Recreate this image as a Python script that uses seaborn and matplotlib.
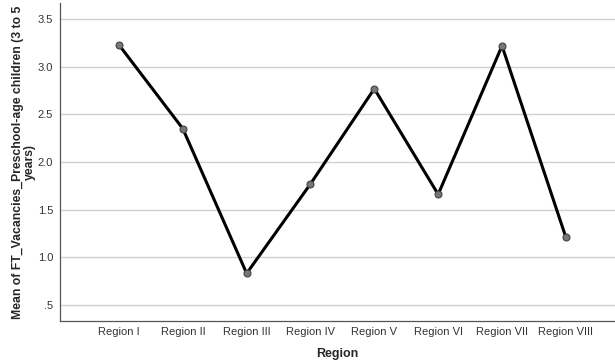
import numpy as np
import pandas as pd
import seaborn as sns
import matplotlib.pyplot as plt
from matplotlib.ticker import FixedLocator, FixedFormatter

regions = ['Region I', 'Region II', 'Region III', 'Region IV',
           'Region V', 'Region VI', 'Region VII', 'Region VIII']
mean_vacancies = [3.23, 2.35, 0.83, 1.77, 2.77, 1.66, 3.22, 1.21]
ytick_vals = [0.5, 1.0, 1.5, 2.0, 2.5, 3.0, 3.5]
ytick_labels = ['.5', '1.0', '1.5', '2.0', '2.5', '3.0', '3.5']

df = pd.DataFrame({'Region': regions, 'Mean': mean_vacancies})

sns.set_style('white')
plt.rcParams['font.family'] = ['Liberation Sans', 'DejaVu Sans']

fig = plt.figure(figsize=(6.15, 3.64), dpi=100)
ax = fig.add_axes([60 / 615, 43 / 364, 555 / 615, 318 / 364])

sns.lineplot(data=df, x='Region', y='Mean', sort=False, color='black',
             linewidth=2.2, marker='o', markersize=5,
             markerfacecolor='#777777', markeredgecolor='#444444',
             markeredgewidth=0.8, ax=ax)

ax.set_xlim(-0.924, 7.77)
ax.set_ylim(0.33, 3.67)
ax.yaxis.set_major_locator(FixedLocator(ytick_vals))
ax.yaxis.set_major_formatter(FixedFormatter(ytick_labels))
ax.grid(axis='y', color='#d0d0d0', linewidth=1)
ax.set_axisbelow(True)

for side in ['top', 'right']:
    ax.spines[side].set_visible(False)
for side in ['left', 'bottom']:
    ax.spines[side].set_color('#555555')
    ax.spines[side].set_linewidth(0.9)

ax.tick_params(axis='both', length=0, labelsize=8, labelcolor='#333333')
ax.tick_params(axis='x', pad=4)
ax.tick_params(axis='y', pad=5)

ax.set_xlabel('Region', fontsize=9, fontweight='bold', labelpad=8)
ax.set_ylabel('Mean of FT_Vacancies_Preschool-age children (3 to 5\nyears)',
              fontsize=8.8, fontweight='bold', linespacing=0.95)
ax.yaxis.set_label_coords(-0.044, 0.5)

fig.savefig('out.png', dpi=100)
